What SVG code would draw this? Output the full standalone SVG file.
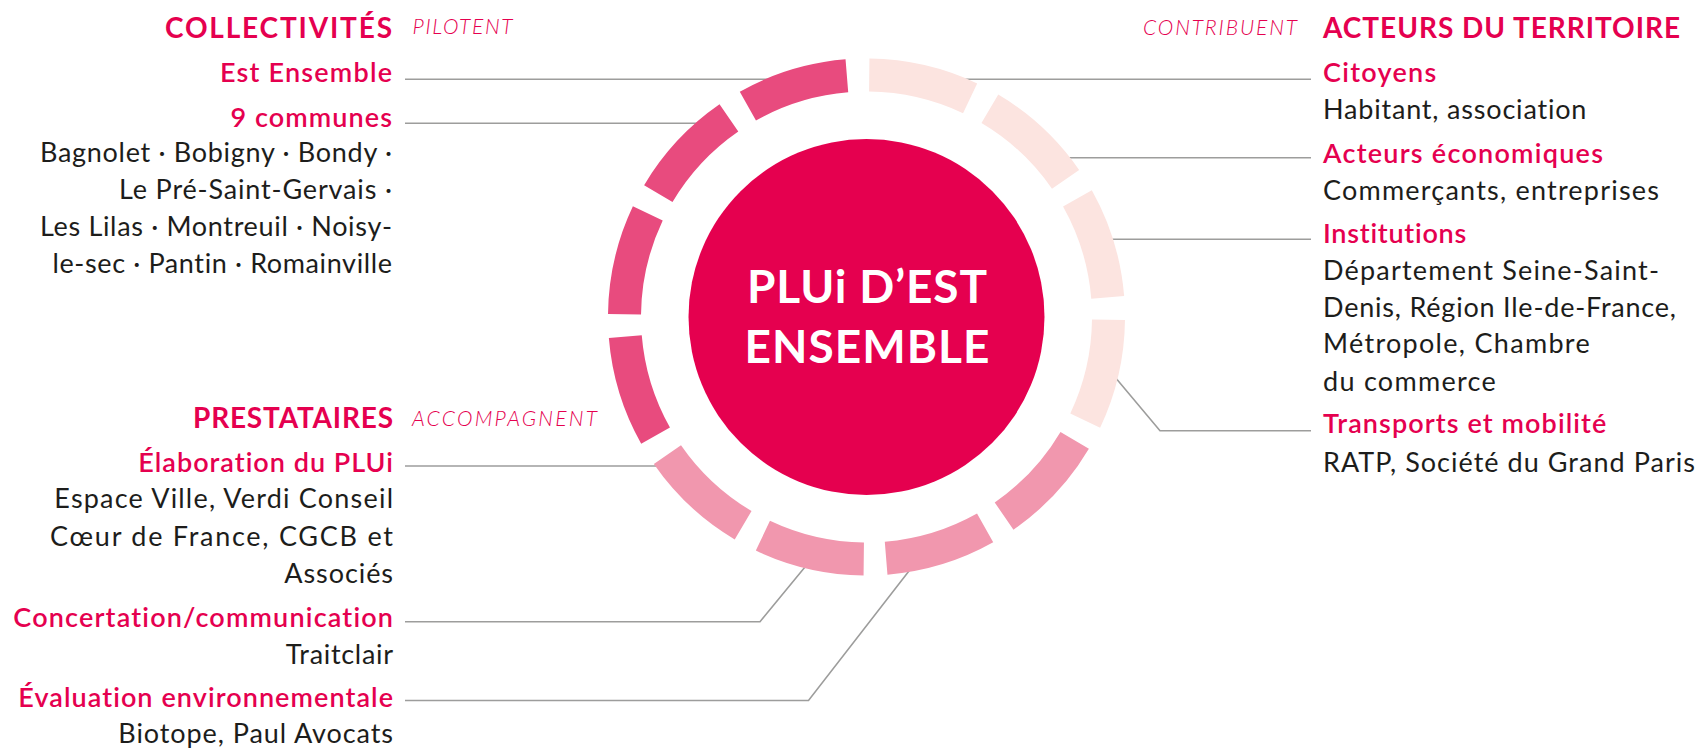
<svg xmlns="http://www.w3.org/2000/svg" width="1702" height="749" viewBox="0 0 1702 749">
<style>
text{font-family:Lato,"Open Sans","Liberation Sans",sans-serif;font-variant-ligatures:none;font-feature-settings:"liga" 0,"clig" 0}
.hd{font-size:28px;font-weight:700;fill:#E5004F}
.it{font-size:21px;font-weight:300;font-style:italic;fill:#E5004F}
.sub{font-size:27px;font-weight:600;fill:#E5004F}
.bd{font-size:27px;font-weight:400;fill:#1D1D1B}
.end{text-anchor:end}
.ctr{font-size:46px;font-weight:700;fill:#FFFFFF;text-anchor:middle}
.ln{fill:none;stroke:#9D9D9C;stroke-width:1.6}
.seg{fill:none;stroke-width:33;stroke-dasharray:104.33 2000}
.c1{stroke:#FCE4E0}.c2{stroke:#F197AE}.c3{stroke:#E84B7E}
</style>
<rect width="1702" height="749" fill="#FFFFFF"/>
<g id="connectors">
<polyline class="ln" points="405,79.3 775,79.3"/>
<polyline class="ln" points="405,123.3 705,123.3"/>
<polyline class="ln" points="405,466 662,466"/>
<polyline class="ln" points="405,621.7 760,621.7 812,558.5"/>
<polyline class="ln" points="405,700.5 808.5,700.5 914,564.5"/>
<polyline class="ln" points="1311,79.3 955,79.3"/>
<polyline class="ln" points="1311,157.7 1060,157.7"/>
<polyline class="ln" points="1311,239.3 1105,239.3"/>
<polyline class="ln" points="1311,430.7 1160,430.7 1112,373.5"/>
</g>
<g id="ring">
<circle class="seg c1" cx="866.5" cy="317" r="242" transform="rotate(-89.35 866.5 317)"/>
<circle class="seg c1" cx="866.5" cy="317" r="242" transform="rotate(-59.35 866.5 317)"/>
<circle class="seg c1" cx="866.5" cy="317" r="242" transform="rotate(-29.35 866.5 317)"/>
<circle class="seg c1" cx="866.5" cy="317" r="242" transform="rotate(0.65 866.5 317)"/>
<circle class="seg c2" cx="866.5" cy="317" r="242" transform="rotate(30.65 866.5 317)"/>
<circle class="seg c2" cx="866.5" cy="317" r="242" transform="rotate(60.65 866.5 317)"/>
<circle class="seg c2" cx="866.5" cy="317" r="242" transform="rotate(90.65 866.5 317)"/>
<circle class="seg c2" cx="866.5" cy="317" r="242" transform="rotate(120.65 866.5 317)"/>
<circle class="seg c3" cx="866.5" cy="317" r="242" transform="rotate(150.65 866.5 317)"/>
<circle class="seg c3" cx="866.5" cy="317" r="242" transform="rotate(180.65 866.5 317)"/>
<circle class="seg c3" cx="866.5" cy="317" r="242" transform="rotate(210.65 866.5 317)"/>
<circle class="seg c3" cx="866.5" cy="317" r="242" transform="rotate(240.65 866.5 317)"/>
</g>
<g id="plui">
<circle cx="866.5" cy="317" r="178" fill="#E5004F"/>
<text class="ctr" x="867" y="302.7" textLength="240">PLUi D’EST</text>
<text class="ctr" x="867" y="362.7" textLength="245">ENSEMBLE</text>
</g>
<g id="collectivites">
<text class="hd end" x="392" y="38" textLength="227">COLLECTIVITÉS</text>
<text class="it" x="412.5" y="34" textLength="100">PILOTENT</text>
</g>
<g id="est-ensemble">
<text class="sub end" x="392" y="82" textLength="172">Est Ensemble</text>
</g>
<g id="communes">
<text class="sub end" x="392" y="126.5" textLength="161.5">9 communes</text>
<text class="bd end" x="392" y="162" textLength="352">Bagnolet · Bobigny · Bondy ·</text>
<text class="bd end" x="392" y="199" textLength="273">Le Pré-Saint-Gervais ·</text>
<text class="bd end" x="392" y="236" textLength="352">Les Lilas · Montreuil · Noisy-</text>
<text class="bd end" x="392" y="273" textLength="339.5">le-sec · Pantin · Romainville</text>
</g>
<g id="prestataires">
<text class="hd end" x="393" y="428" textLength="200">PRESTATAIRES</text>
<text class="it" x="412" y="426" textLength="185">ACCOMPAGNENT</text>
</g>
<g id="elaboration">
<text class="sub end" x="393" y="472" textLength="254.7">Élaboration du PLUi</text>
<text class="bd end" x="393" y="508" textLength="338.7">Espace Ville, Verdi Conseil</text>
<text class="bd end" x="393" y="546" textLength="343">Cœur de France, CGCB et</text>
<text class="bd end" x="393" y="583" textLength="108.7">Associés</text>
</g>
<g id="concertation">
<text class="sub end" x="393" y="627" textLength="379.7">Concertation/communication</text>
<text class="bd end" x="393" y="664" textLength="107.3">Traitclair</text>
</g>
<g id="evaluation">
<text class="sub end" x="393" y="707" textLength="374.7">Évaluation environnementale</text>
<text class="bd end" x="393" y="743" textLength="274.7">Biotope, Paul Avocats</text>
</g>
<g id="acteurs">
<text class="it end" x="1297" y="35" textLength="154">CONTRIBUENT</text>
<text class="hd" x="1323" y="38.3" textLength="357">ACTEURS DU TERRITOIRE</text>
</g>
<g id="citoyens">
<text class="sub" x="1323" y="82" textLength="113.3">Citoyens</text>
<text class="bd" x="1323" y="119" textLength="263.4">Habitant, association</text>
</g>
<g id="acteurs-economiques">
<text class="sub" x="1323" y="162.7" textLength="280">Acteurs économiques</text>
<text class="bd" x="1323" y="200" textLength="336">Commerçants, entreprises</text>
</g>
<g id="institutions">
<text class="sub" x="1323" y="243.3" textLength="143.3">Institutions</text>
<text class="bd" x="1323" y="280" textLength="336">Département Seine-Saint-</text>
<text class="bd" x="1323" y="316.7" textLength="353">Denis, Région Ile-de-France,</text>
<text class="bd" x="1323" y="353.3" textLength="266.7">Métropole, Chambre</text>
<text class="bd" x="1323" y="391" textLength="172.7">du commerce</text>
</g>
<g id="transports">
<text class="sub" x="1323" y="433.3" textLength="283.3">Transports et mobilité</text>
<text class="bd" x="1323" y="471.7" textLength="372">RATP, Société du Grand Paris</text>
</g>
</svg>
